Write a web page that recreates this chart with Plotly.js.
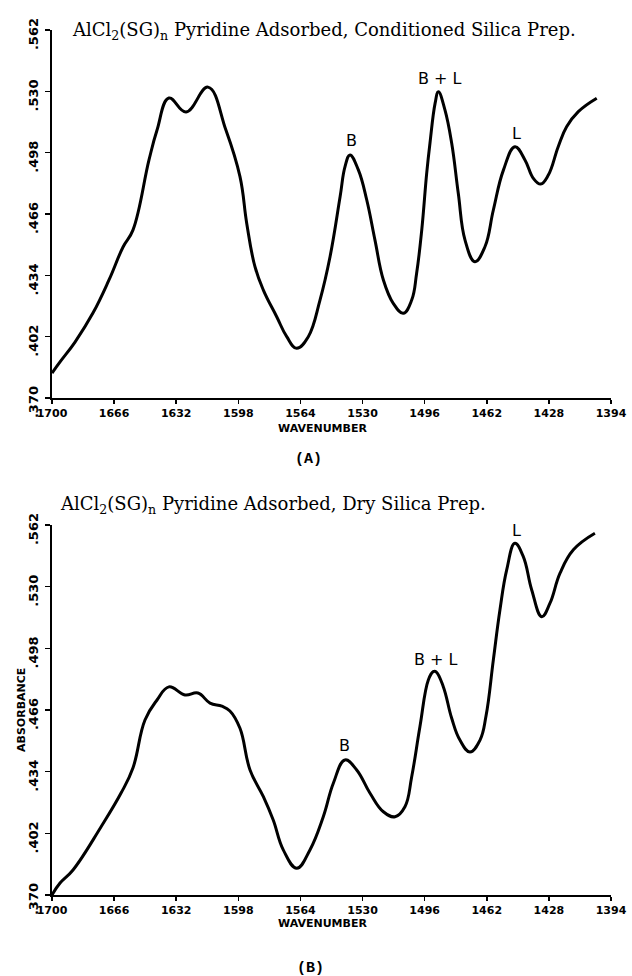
<!DOCTYPE html>
<html>
<head>
<meta charset="utf-8">
<script src="https://cdn.plot.ly/plotly-3.0.1.min.js"></script>
<style>html,body{margin:0;padding:0;background:#fff;}#chart{width:632px;height:976px;}</style>
</head>
<body>
<div id="chart"></div>
<script>
// ---- Data ----
const xTickVals = [1700, 1666, 1632, 1598, 1564, 1530, 1496, 1462, 1428, 1394];
const xTickText = ['1700', '1666', '1632', '1598', '1564', '1530', '1496', '1462', '1428', '1394'];
const yTickVals = [0.370, 0.402, 0.434, 0.466, 0.498, 0.530, 0.562];
const yTickText = ['.370', '.402', '.434', '.466', '.498', '.530', '.562'];

// Panel A: Conditioned silica prep
const wavenumberA = [1700, 1695.6, 1687.4, 1677.6, 1668.8, 1661.1, 1655.7, 1646.9, 1642.5, 1636.0, 1626.6, 1614.6,
  1604.8, 1597.1, 1593.4, 1588.9, 1584.3, 1577.0, 1571.5, 1566.1, 1559.7, 1553.3, 1547.8, 1542.3, 1539.6,
  1536.9, 1532.3, 1527.7, 1523.2, 1518.6, 1513.2, 1507.7, 1503.1, 1500.4, 1497.6, 1494.9, 1493.1, 1490.3,
  1488.5, 1484.9, 1481.2, 1477.6, 1473.9, 1468.5, 1463.0, 1458.4, 1452.9, 1446.6, 1441.1, 1436.5, 1432.5,
  1428.3, 1422.9, 1418.3, 1411.9, 1401.8];
const absorbanceA = [0.3830, 0.3888, 0.3992, 0.4143, 0.4316, 0.4488, 0.4576, 0.4942, 0.5098, 0.5265, 0.5192, 0.5322,
  0.5098, 0.4855, 0.4611, 0.4385, 0.4263, 0.4124, 0.4020, 0.3959, 0.4020, 0.4211, 0.4437, 0.4750, 0.4907,
  0.4968, 0.4890, 0.4733, 0.4524, 0.4316, 0.4194, 0.4142, 0.4211, 0.4351, 0.4576, 0.4872, 0.5029, 0.5237,
  0.5298, 0.5203, 0.5029, 0.4768, 0.4524, 0.4411, 0.4489, 0.4681, 0.4889, 0.5011, 0.4942, 0.4846, 0.4816,
  0.4863, 0.5011, 0.5115, 0.5194, 0.5264];

// Panel B: Dry silica prep
const wavenumberB = [1700, 1695.6, 1688.5, 1673.2, 1662.2, 1655.7, 1649.1, 1642.5, 1636.0, 1627.2, 1620.1, 1613.5,
  1607.0, 1602.6, 1597.1, 1591.6, 1584.3, 1578.9, 1573.4, 1566.0, 1558.8, 1551.5, 1546.0, 1539.6, 1533.2,
  1525.9, 1518.6, 1512.2, 1506.8, 1503.1, 1498.6, 1494.0, 1491.3, 1489.8, 1485.8, 1481.2, 1476.7, 1471.2,
  1465.7, 1462.4, 1458.4, 1454.8, 1451.1, 1446.6, 1442.0, 1437.4, 1431.9, 1427.4, 1421.9, 1414.6, 1402.8];
const absorbanceB = [0.3700, 0.3762, 0.3830, 0.4053, 0.4229, 0.4359, 0.4608, 0.4712, 0.4780, 0.4738, 0.4748, 0.4696,
  0.4680, 0.4655, 0.4565, 0.4349, 0.4210, 0.4089, 0.3934, 0.3839, 0.3934, 0.4106, 0.4280, 0.4401, 0.4349,
  0.4228, 0.4132, 0.4106, 0.4158, 0.4314, 0.4573, 0.4816, 0.4859, 0.4859, 0.4781, 0.4617, 0.4504, 0.4442,
  0.4504, 0.4630, 0.4920, 0.5179, 0.5387, 0.5525, 0.5456, 0.5283, 0.5144, 0.5214, 0.5370, 0.5491, 0.5577];

// Peak labels
const peakTextA = ['B', 'B + L', 'L'];
const peakXA = [1536.3, 1487.6, 1445.6];
const peakYA = [0.5046, 0.5365, 0.5080];
const peakTextB = ['B', 'B + L', 'L'];
const peakXB = [1540.0, 1489.8, 1445.6];
const peakYB = [0.4475, 0.4920, 0.5594];

const titleA = 'AlCl<sub>2</sub>(SG)<sub>n</sub> Pyridine Adsorbed, Conditioned Silica Prep.';
const titleB = 'AlCl<sub>2</sub>(SG)<sub>n</sub> Pyridine Adsorbed, Dry Silica Prep.';

// ---- Layout ----
const W = 632, H = 976;
const px = x => x / W;
const py = y => 1 - y / H;

const xTickFont = {family: 'DejaVu Sans', size: 11, color: '#000', weight: 'bold'};
const yTickFont = {family: 'DejaVu Sans', size: 13, color: '#000', weight: 'bold'};
function xAxis(anchor) {
  return {
    anchor: anchor, domain: [px(52), px(611)], range: [1700, 1394],
    tickvals: xTickVals, ticktext: xTickText, ticks: 'outside', ticklen: 4, tickwidth: 1.5,
    tickcolor: '#000', showline: true, linecolor: '#000', linewidth: 2,
    showgrid: false, zeroline: false, tickfont: xTickFont, ticklabelstandoff: 0
  };
}
function yAxis(anchor, top, bottom) {
  return {
    anchor: anchor, domain: [py(bottom), py(top)], range: [0.370, 0.562],
    tickvals: yTickVals, ticktext: yTickText, ticks: 'outside', ticklen: 5, tickwidth: 1.5,
    tickcolor: '#000', showline: true, linecolor: '#000', linewidth: 2,
    showgrid: false, zeroline: false, tickfont: yTickFont, tickangle: -90,
    ticklabelshift: 6, ticklabelstandoff: 2
  };
}

const lineStyle = {color: '#000', width: 3, shape: 'spline', smoothing: 1.2};
const traces = [
  {x: wavenumberA, y: absorbanceA, xaxis: 'x', yaxis: 'y', mode: 'lines', line: lineStyle, hoverinfo: 'skip'},
  {x: wavenumberB, y: absorbanceB, xaxis: 'x2', yaxis: 'y2', mode: 'lines', line: lineStyle, hoverinfo: 'skip'}
];

const labelFont = {family: 'DejaVu Sans', size: 16, color: '#000'};
const annotations = [];
peakTextA.forEach((t, i) => annotations.push({xref: 'x', yref: 'y', x: peakXA[i], y: peakYA[i], text: t,
  showarrow: false, font: labelFont, xanchor: 'center', yanchor: 'middle'}));
peakTextB.forEach((t, i) => annotations.push({xref: 'x2', yref: 'y2', x: peakXB[i], y: peakYB[i], text: t,
  showarrow: false, font: labelFont, xanchor: 'center', yanchor: 'middle'}));

const titleFont = {family: 'DejaVu Serif', size: 18, color: '#000'};
annotations.push({xref: 'paper', yref: 'paper', x: px(70), y: py(31), text: titleA, showarrow: false,
  xanchor: 'left', yanchor: 'middle', font: titleFont});
annotations.push({xref: 'paper', yref: 'paper', x: px(58), y: py(505), text: titleB, showarrow: false,
  xanchor: 'left', yanchor: 'middle', font: titleFont});

const axTitleFont = {family: 'DejaVu Sans', size: 11, color: '#000', weight: 'bold'};
annotations.push({xref: 'paper', yref: 'paper', x: px(323), y: py(428), text: 'WAVENUMBER', showarrow: false,
  xanchor: 'center', yanchor: 'middle', font: axTitleFont});
annotations.push({xref: 'paper', yref: 'paper', x: px(323), y: py(923), text: 'WAVENUMBER', showarrow: false,
  xanchor: 'center', yanchor: 'middle', font: axTitleFont});
annotations.push({xref: 'paper', yref: 'paper', x: px(21), y: py(710), text: 'ABSORBANCE', showarrow: false,
  xanchor: 'center', yanchor: 'middle', textangle: -90, font: axTitleFont});

const panelFont = {family: 'Liberation Mono', size: 15, color: '#000', weight: 'bold'};
annotations.push({xref: 'paper', yref: 'paper', x: px(308), y: py(459), text: '(A)', showarrow: false,
  xanchor: 'center', yanchor: 'middle', font: panelFont});
annotations.push({xref: 'paper', yref: 'paper', x: px(310), y: py(968), text: '(B)', showarrow: false,
  xanchor: 'center', yanchor: 'middle', font: panelFont});

const layout = {
  width: W, height: H, margin: {l: 0, r: 0, t: 0, b: 0},
  paper_bgcolor: '#fff', plot_bgcolor: '#fff', showlegend: false,
  xaxis: xAxis('y'), yaxis: yAxis('x', 30, 398),
  xaxis2: xAxis('y2'), yaxis2: yAxis('x2', 525, 895),
  annotations: annotations
};

Plotly.newPlot('chart', traces, layout, {displayModeBar: false, staticPlot: true});
</script>
</body>
</html>
